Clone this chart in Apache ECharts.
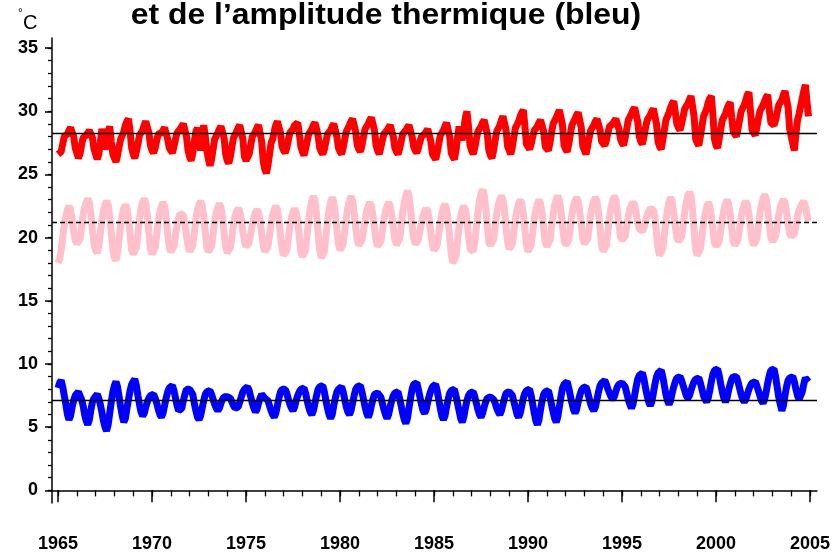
<!DOCTYPE html>
<html><head><meta charset="utf-8">
<script src="https://cdn.jsdelivr.net/npm/echarts@6/dist/echarts.min.js"></script>
<style>html,body{margin:0;padding:0;background:#fff}#c{width:834px;height:555px}</style>
</head><body><div id="c"></div>
<script>
// monthly series, Jan 1965 .. Dec 2004 (one row per year)
const startYear = 1965;
const xTickLabels = [1965, 1970, 1975, 1980, 1985, 1990, 1995, 2000, 2005];
const yTickLabels = [0, 5, 10, 15, 20, 25, 30, 35];
const meanRed = 28.3, meanPink = 21.2, meanBlue = 7.1;

const red = [
26.6,26.5,26.8,27.4,28.0,27.9,28.2,28.5,28.7,28.8,28.0,27.1,
26.7,26.3,26.6,27.3,27.9,27.8,28.1,28.3,28.5,28.6,27.9,27.0,
26.6,26.2,26.6,27.5,28.6,28.0,27.0,27.6,28.4,28.8,27.6,26.6,
26.3,26.0,26.5,27.2,27.8,27.9,28.4,28.9,29.2,29.4,28.4,27.1,
26.6,26.3,26.8,27.4,28.1,28.1,28.5,28.9,29.2,29.3,28.3,27.3,
26.9,26.7,27.1,27.7,28.2,28.1,28.3,28.5,28.7,28.6,27.8,27.1,
26.9,26.7,27.2,27.8,28.3,28.3,28.6,28.8,29.0,29.1,28.0,26.9,
26.4,26.1,26.7,27.6,28.4,28.7,27.6,26.9,28.0,28.9,28.0,26.9,
26.2,25.7,26.2,27.0,27.8,27.9,28.3,28.6,28.8,28.9,27.9,26.6,
26.1,25.9,26.4,27.2,27.9,28.0,28.4,28.7,28.9,29.0,27.8,26.4,
26.1,26.0,26.6,27.3,28.0,28.1,28.4,28.7,28.9,29.0,27.6,26.0,
25.4,25.1,25.7,26.6,27.5,27.8,28.4,28.9,29.2,29.3,28.3,27.2,
26.9,26.7,27.1,27.7,28.3,28.3,28.6,28.9,29.0,29.1,28.2,27.2,
26.8,26.5,27.0,27.6,28.2,28.3,28.6,28.9,29.1,29.2,28.1,27.1,
26.8,26.6,27.0,27.6,28.2,28.2,28.5,28.8,29.0,29.1,28.0,27.1,
26.8,26.6,27.1,27.8,28.4,28.5,28.9,29.2,29.4,29.5,28.4,27.3,
27.0,26.8,27.3,28.0,28.6,28.6,29.0,29.3,29.5,29.6,28.5,27.3,
26.9,26.6,27.1,27.7,28.2,28.2,28.5,28.7,28.9,29.0,28.0,27.1,
26.8,26.6,27.0,27.6,28.2,28.2,28.5,28.7,28.9,29.0,28.0,27.2,
26.9,26.7,27.1,27.6,28.0,28.0,28.2,28.4,28.6,28.7,27.6,26.6,
26.4,26.2,26.7,27.4,28.1,28.2,28.5,28.8,29.1,29.2,28.0,26.7,
26.4,26.2,26.9,27.9,28.8,28.2,27.7,28.6,29.5,30.0,28.8,27.3,
26.9,26.6,27.1,27.8,28.4,28.5,28.8,29.1,29.3,29.4,28.2,26.9,
26.5,26.3,26.9,27.7,28.4,28.5,28.9,29.3,29.6,29.7,28.5,27.2,
26.9,26.6,27.2,28.0,28.7,28.8,29.2,29.6,29.9,30.1,28.8,27.4,
27.2,27.0,27.4,28.0,28.5,28.5,28.8,29.1,29.3,29.4,28.4,27.2,
27.1,26.9,27.5,28.3,29.0,29.1,29.5,29.8,30.1,30.2,28.9,27.3,
27.0,26.8,27.4,28.2,28.9,29.0,29.4,29.7,29.9,30.0,28.7,27.2,
26.9,26.6,27.2,27.9,28.5,28.6,28.9,29.2,29.4,29.5,28.5,27.6,
27.5,27.3,27.7,28.3,28.8,28.8,29.0,29.2,29.4,29.5,28.6,27.8,
27.5,27.3,27.9,28.6,29.3,29.4,29.8,30.1,30.3,30.4,29.2,28.0,
27.6,27.4,28.0,28.7,29.3,29.4,29.7,30.0,30.2,30.3,29.0,27.6,
27.2,27.0,27.7,28.5,29.3,29.4,29.9,30.3,30.6,30.8,29.9,29.0,
28.7,28.5,29.0,29.6,30.2,30.2,30.6,30.9,31.2,31.3,29.6,27.8,
27.5,27.3,28.0,28.8,29.6,29.7,30.2,30.7,31.0,31.2,29.7,27.8,
27.3,27.1,27.8,28.6,29.3,29.4,29.8,30.2,30.5,30.7,29.5,28.4,
28.2,28.0,28.6,29.3,30.0,30.0,30.5,30.9,31.3,31.5,30.0,28.5,
28.3,28.1,28.7,29.4,30.0,30.0,30.5,30.8,31.1,31.3,30.1,29.1,
29.1,28.9,29.3,29.9,30.5,30.5,30.9,31.3,31.6,31.7,30.3,28.6,
28.0,27.4,26.9,28.2,29.3,29.8,30.4,31.0,31.6,32.1,30.8,29.6
];

const pink = [
18.0,18.3,19.0,20.0,21.0,21.7,22.2,22.5,22.2,21.4,20.5,19.8,
19.5,19.4,19.9,20.8,21.8,22.4,22.8,23.1,22.8,21.9,20.6,19.5,
19.0,18.8,19.3,20.3,21.4,22.1,22.6,22.9,22.6,21.7,20.4,19.1,
18.4,18.2,18.8,19.9,21.0,21.8,22.3,22.6,22.3,21.5,20.3,19.0,
18.7,18.6,19.2,20.3,21.4,22.3,22.8,23.1,22.7,21.8,20.4,19.1,
18.7,18.6,19.2,20.2,21.3,22.0,22.5,22.8,22.5,21.6,20.3,19.2,
18.9,18.8,19.3,20.2,21.0,21.6,21.9,22.0,21.8,21.1,20.2,19.3,
18.9,18.8,19.4,20.4,21.5,22.2,22.6,22.9,22.6,21.7,20.4,19.2,
18.9,18.8,19.3,20.3,21.3,22.0,22.4,22.7,22.4,21.6,20.4,19.3,
18.8,18.7,19.2,20.1,21.0,21.7,22.1,22.3,22.1,21.4,20.5,19.7,
19.3,19.2,19.6,20.3,21.0,21.6,22.0,22.2,22.0,21.3,20.3,19.4,
18.9,18.8,19.3,20.2,21.1,21.8,22.2,22.5,22.2,21.4,20.2,19.1,
18.6,18.5,19.0,19.9,20.9,21.6,22.0,22.3,22.0,21.3,20.1,18.9,
18.5,18.4,19.0,20.2,21.4,22.3,22.9,23.3,22.9,21.9,20.4,19.0,
18.4,18.3,18.9,20.1,21.3,22.2,22.8,23.2,22.8,21.9,20.6,19.5,
19.0,18.9,19.5,20.5,21.6,22.4,22.9,23.3,22.9,22.0,20.8,19.8,
19.4,19.3,19.8,20.6,21.4,22.1,22.5,22.8,22.5,21.8,20.7,19.8,
19.3,19.2,19.7,20.5,21.4,22.1,22.5,22.8,22.5,21.8,20.8,19.9,
19.4,19.3,19.9,20.9,22.0,22.8,23.3,23.7,23.3,22.3,21.0,19.9,
19.5,19.4,19.8,20.5,21.2,21.7,22.1,22.3,22.1,21.4,20.4,19.4,
19.0,18.9,19.4,20.3,21.2,21.9,22.4,22.65,22.3,21.4,20.0,18.7,
18.0,17.85,18.5,19.7,20.9,21.7,22.2,22.5,22.2,21.4,20.2,19.1,
19.0,18.9,19.6,20.8,22.0,22.9,23.5,23.8,23.4,22.4,20.9,19.6,
19.4,19.3,19.9,20.9,21.9,22.6,23.0,23.3,23.0,22.1,20.8,19.6,
19.1,19.0,19.5,20.5,21.5,22.2,22.7,23.0,22.7,21.9,20.6,19.4,
18.9,18.8,19.4,20.4,21.5,22.2,22.7,23.0,22.7,21.9,20.7,19.6,
19.3,19.2,19.8,20.8,21.8,22.6,23.0,23.3,23.0,22.1,20.9,19.8,
19.4,19.3,19.8,20.8,21.8,22.5,22.9,23.2,22.9,22.1,20.9,19.9,
19.5,19.4,19.9,20.8,21.8,22.5,22.9,23.2,22.9,22.0,20.7,19.4,
18.9,18.8,19.4,20.5,21.6,22.4,22.9,23.3,23.0,22.1,21.0,20.1,
19.8,19.7,20.1,20.9,21.7,22.3,22.6,22.8,22.6,22.0,21.2,20.7,
20.6,20.5,20.8,21.3,21.8,22.1,22.3,22.4,22.2,21.5,20.3,19.1,
18.6,18.5,19.1,20.2,21.3,22.2,22.8,23.2,22.9,22.0,20.9,20.0,
19.7,19.6,20.1,21.0,22.0,22.8,23.3,23.6,23.3,22.2,20.6,19.0,
18.6,18.5,19.1,20.1,21.1,21.9,22.4,22.8,22.5,21.7,20.6,19.6,
19.3,19.2,19.7,20.6,21.5,22.2,22.7,23.0,22.7,21.9,20.8,19.7,
19.4,19.3,19.8,20.7,21.6,22.2,22.6,22.9,22.6,21.9,20.8,19.8,
19.4,19.3,19.9,20.9,21.9,22.6,23.1,23.4,23.1,22.2,21.0,20.0,
19.7,19.6,20.1,20.9,21.8,22.4,22.8,23.0,22.8,22.1,21.1,20.3,
20.1,19.95,20.3,21.0,21.7,22.2,22.5,22.6,22.9,22.5,21.8,21.3
];

const blue = [
8.1,8.5,8.7,8.2,7.5,6.8,6.0,5.6,5.9,6.6,7.1,7.5,
7.6,7.8,7.5,7.2,6.7,6.0,5.5,5.2,5.6,6.4,7.0,7.3,
7.4,7.6,7.3,6.8,6.2,5.5,5.0,4.7,5.2,6.1,7.0,7.8,
8.3,8.6,8.2,7.4,6.6,5.9,5.4,5.7,6.5,7.2,7.9,8.4,
8.6,8.8,8.3,7.5,6.8,6.2,5.9,6.1,6.6,7.0,7.3,7.5,
7.4,7.6,7.3,6.9,6.4,6.0,5.8,6.1,6.7,7.3,7.8,8.1,
8.2,8.3,7.9,7.3,6.7,6.3,6.2,6.5,7.1,7.6,8.0,8.1,
8.0,8.1,7.6,6.9,6.3,5.8,5.6,5.9,6.5,7.1,7.6,7.8,
7.8,7.9,7.6,7.2,6.8,6.5,6.3,6.5,6.9,7.2,7.4,7.5,
7.4,7.5,7.3,7.0,6.7,6.5,6.4,6.6,7.0,7.4,7.8,8.0,
8.1,8.2,7.9,7.4,6.9,6.5,6.2,6.4,6.9,7.3,7.6,7.5,
7.3,7.4,7.1,6.7,6.3,6.0,5.8,6.1,6.7,7.3,7.8,8.0,
7.9,8.0,7.7,7.2,6.8,6.5,6.3,6.6,7.1,7.5,7.8,8.0,
8.0,8.1,7.7,7.1,6.6,6.2,6.0,6.3,6.9,7.5,8.0,8.2,
8.2,8.3,7.8,7.1,6.5,6.0,5.7,6.0,6.7,7.3,7.8,8.0,
8.1,8.2,7.8,7.2,6.6,6.2,6.0,6.3,6.9,7.5,8.0,8.2,
8.2,8.3,7.8,7.2,6.6,6.1,5.8,6.1,6.7,7.2,7.6,7.7,
7.7,7.8,7.4,6.9,6.4,6.0,5.7,6.0,6.6,7.1,7.5,7.7,
7.7,7.8,7.3,6.7,6.1,5.6,5.3,5.7,6.5,7.3,8.0,8.4,
8.4,8.5,8.0,7.4,6.8,6.3,6.1,6.4,7.0,7.5,7.9,8.2,
8.3,8.4,7.9,7.2,6.5,5.9,5.6,5.9,6.6,7.2,7.7,7.9,
7.9,8.0,7.5,6.9,6.3,5.7,5.4,5.8,6.5,7.1,7.5,7.7,
7.7,7.8,7.4,6.9,6.4,6.0,5.8,6.1,6.6,7.0,7.3,7.4,
7.4,7.5,7.2,6.9,6.5,6.2,6.0,6.3,6.8,7.3,7.7,7.8,
7.8,7.9,7.5,7.0,6.5,6.0,5.8,6.1,6.7,7.3,7.7,7.9,
7.9,8.0,7.5,6.8,6.1,5.5,5.2,5.6,6.4,7.1,7.6,7.8,
7.8,7.9,7.4,6.8,6.2,5.7,5.4,5.8,6.6,7.4,8.1,8.4,
8.5,8.6,8.1,7.5,6.9,6.4,6.1,6.4,7.0,7.5,7.9,8.1,
8.1,8.2,7.8,7.3,6.8,6.5,6.3,6.6,7.2,7.8,8.3,8.5,
8.6,8.7,8.4,8.0,7.7,7.4,7.2,7.4,7.8,8.2,8.4,8.5,
8.5,8.6,8.2,7.7,7.2,6.8,6.5,6.8,7.5,8.2,8.8,9.1,
9.2,9.3,8.8,8.1,7.5,7.0,6.7,7.0,7.7,8.4,9.0,9.3,
9.4,9.5,9.0,8.3,7.6,7.1,6.8,7.1,7.7,8.2,8.6,8.9,
8.9,9.0,8.7,8.3,7.9,7.5,7.3,7.5,7.9,8.3,8.6,8.8,
8.8,8.9,8.5,8.0,7.5,7.2,7.0,7.3,7.9,8.6,9.2,9.5,
9.5,9.6,9.1,8.4,7.8,7.3,7.0,7.3,7.9,8.4,8.8,9.0,
8.9,9.0,8.6,8.1,7.6,7.2,7.0,7.2,7.6,8.0,8.3,8.5,
8.5,8.6,8.3,7.9,7.5,7.1,6.9,7.2,7.8,8.5,9.1,9.5,
9.5,9.6,9.0,8.2,7.4,6.8,6.3,6.7,7.5,8.2,8.7,8.9,
8.9,9.0,8.6,8.0,7.5,7.2,7.3,7.8,8.4,8.9,9.0,8.6
];

const toPoints = arr => arr.map((v, i) => [startYear + i / 12, v]);
const minorX = []; for (let y = 1965; y <= 2005; y++) minorX.push(y);
const minorY = []; for (let v = 0; v <= 35; v++) minorY.push(v);
const FONT = '"Liberation Sans Narrow", "Liberation Sans", Arial, sans-serif';

const chart = echarts.init(document.getElementById('c'), null, {renderer: 'canvas'});
const axisLine = {show: true, lineStyle: {color: '#000', width: 1.5}};
const meanLine = (v, dashed) => ({
  silent: true, symbol: 'none', animation: false,
  label: {show: false},
  lineStyle: {color: '#000', width: 1.3, type: dashed ? [5, 3] : 'solid'},
  data: [{yAxis: v}]
});
chart.setOption({
  animation: false,
  backgroundColor: '#fff',
  grid: {left: 52, right: 17, top: 38, bottom: 52, containLabel: false},
  xAxis: [{
    type: 'value', min: 1964.68, max: 2005.37, position: 'bottom',
    axisLine: axisLine, splitLine: {show: false},
    axisTick: {show: true, length: 12, customValues: xTickLabels, lineStyle: {color: '#000', width: 1.5}},
    axisLabel: {show: true, customValues: xTickLabels, margin: 32, color: '#000',
      fontFamily: FONT, fontWeight: 'bold', fontSize: 18, formatter: v => String(v)}
  }, {
    type: 'value', min: 1964.68, max: 2005.37, position: 'bottom', offset: 0,
    axisLine: {show: false}, splitLine: {show: false}, axisLabel: {show: false},
    axisTick: {show: true, length: 6, customValues: minorX, lineStyle: {color: '#000', width: 1.3}}
  }],
  yAxis: [{
    type: 'value', min: -1, max: 35.8, position: 'left',
    axisLine: axisLine, splitLine: {show: false},
    axisTick: {show: true, length: 7, customValues: yTickLabels, lineStyle: {color: '#000', width: 1.5}},
    axisLabel: {show: true, customValues: yTickLabels, margin: 14, color: '#000',
      fontFamily: FONT, fontWeight: 'bold', fontSize: 18}
  }, {
    type: 'value', min: -1, max: 35.8, position: 'left', offset: 0,
    axisLine: {show: false}, splitLine: {show: false}, axisLabel: {show: false},
    axisTick: {show: true, length: 4, customValues: minorY, lineStyle: {color: '#000', width: 1.3}}
  }],
  series: [
    {type: 'line', name: 'min', data: toPoints(pink), showSymbol: false, symbol: 'none',
     lineStyle: {color: '#ffc0cb', width: 7}, itemStyle: {color: '#ffc0cb'}, markLine: meanLine(meanPink, true)},
    {type: 'line', name: 'max', data: toPoints(red), showSymbol: false, symbol: 'none',
     lineStyle: {color: '#ff0000', width: 7}, itemStyle: {color: '#ff0000'}, markLine: meanLine(meanRed, false)},
    {type: 'line', name: 'amp', data: toPoints(blue), showSymbol: false, symbol: 'none',
     lineStyle: {color: '#0000ff', width: 7}, itemStyle: {color: '#0000ff'}, markLine: meanLine(meanBlue, false)}
  ],
  graphic: [
    {type: 'text', x: 386, y: 30, scaleX: 1.1, originX: 0, style: {
      text: 'et de l\u2019amplitude thermique (bleu)', fill: '#000',
      align: 'center', verticalAlign: 'bottom', textAlign: 'center', textVerticalAlign: 'bottom',
      font: 'bold 29px "Liberation Sans", Arial, sans-serif'}},
    {type: 'text', x: 18, y: 8, style: {text: '\u00b0', fill: '#000',
      font: '12px "Liberation Sans", Arial, sans-serif'}},
    {type: 'text', x: 23, y: 13, style: {text: 'C', fill: '#000',
      font: '20px "Liberation Sans", Arial, sans-serif'}}
  ]
});
</script></body></html>
